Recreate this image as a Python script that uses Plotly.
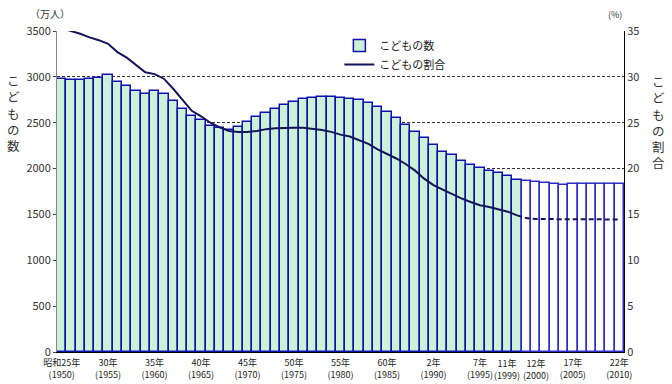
import plotly.graph_objects as go
from plotly.subplots import make_subplots

years_hist = list(range(1950, 2000))
children_hist = [2975, 2970, 2970, 2975, 2988, 3015, 2940, 2898, 2850, 2817,
                 2850, 2814, 2735, 2648, 2572, 2525, 2464, 2440, 2425, 2455,
                 2510, 2558, 2601, 2648, 2692, 2725, 2754, 2769, 2780, 2780,
                 2769, 2762, 2747, 2711, 2667, 2615, 2548, 2475, 2402, 2329,
                 2257, 2184, 2148, 2086, 2039, 2002, 1973, 1955, 1922, 1875]
ratio_hist = [35.3, 35.0, 34.7, 34.3, 34.0, 33.6, 32.7, 32.1, 31.3, 30.5,
              30.3, 29.8, 28.7, 27.5, 26.3, 25.7, 25.0, 24.5, 24.1, 24.0,
              24.0, 24.1, 24.3, 24.4, 24.45, 24.45, 24.45, 24.35, 24.2, 24.0,
              23.7, 23.5, 23.1, 22.7, 22.1, 21.6, 21.1, 20.5, 19.8, 18.9,
              18.2, 17.7, 17.2, 16.75, 16.35, 16.0, 15.8, 15.55, 15.3, 14.9]

years_proj = list(range(2000, 2011))
children_proj = [1860, 1850, 1839, 1830, 1822, 1828, 1828, 1828, 1828, 1828, 1828]
years_proj_line = [1999] + years_proj
ratio_proj = [14.9, 14.6, 14.5, 14.5, 14.45, 14.45, 14.45, 14.45, 14.45, 14.45, 14.45, 14.45]

tick_years = [1950, 1955, 1960, 1965, 1970, 1975, 1980, 1985, 1990, 1995, 2005, 2010]
tick_era = ["昭和25年", "30年", "35年", "40年", "45年", "50年", "55年", "60年",
            "2年", "7年", "17年", "22年"]
extra_years = [1999, 2000]
extra_era = ["11年", "12年"]

legend_bar = "こどもの数"
legend_line = "こどもの割合"

FONT = "Noto Sans CJK JP"
BAR_LINE = "#1010b0"
NAVY = "#14145a"

fig = make_subplots(specs=[[{"secondary_y": True}]])

fig.add_trace(go.Bar(x=years_hist, y=children_hist, name=legend_bar,
                     marker=dict(color="#cbf2d6", line=dict(color=BAR_LINE, width=1.5)),
                     width=1.0), secondary_y=False)
fig.add_trace(go.Bar(x=years_proj, y=children_proj, name=legend_bar, showlegend=False,
                     marker=dict(color="#ffffff", line=dict(color="#2c2cc8", width=1.5)),
                     width=1.0), secondary_y=False)
fig.add_trace(go.Scatter(x=years_hist, y=ratio_hist, name=legend_line, mode="lines",
                         line=dict(color=NAVY, width=2)), secondary_y=True)
fig.add_trace(go.Scatter(x=years_proj_line, y=ratio_proj, name=legend_line, mode="lines",
                         showlegend=False,
                         line=dict(color=NAVY, width=2, dash="5px,3px")), secondary_y=True)

ticktext = [f"{e}<br>({y})" for e, y in zip(tick_era, tick_years)]

fig.update_xaxes(range=[1949.5, 2010.5], domain=[0, 1], automargin=False,
                 tickmode="array", tickvals=tick_years,
                 ticktext=ticktext, tickangle=0, showgrid=False, showline=True,
                 linecolor="#000000", linewidth=1, ticks="", ticklabelstandoff=2,
                 tickfont=dict(family=FONT, size=9, color="#222222"))

fig.update_yaxes(range=[0, 3500], dtick=500, showgrid=True, gridcolor="#333333",
                 griddash="3px,2px", gridwidth=1, showline=True, linecolor="#888888",
                 ticks="outside", ticklen=3, tickcolor="#444444", zeroline=False,
                 automargin=False,
                 tickfont=dict(family=FONT, size=11, color="#333333"),
                 secondary_y=False)
fig.update_yaxes(range=[0, 35], dtick=5, showgrid=False, showline=True,
                 linecolor="#000000", ticks="", zeroline=False, automargin=False,
                 tickfont=dict(family=FONT, size=11, color="#333333"),
                 secondary_y=True)

annotations = []
for y, e in zip(extra_years, extra_era):
    annotations.append(dict(x=y, y=0, xref="x", yref="paper", yanchor="top",
                            xanchor="right" if y == 1999 else "left",
                            xshift=5 if y == 1999 else -5, yshift=-3,
                            text=f"{e}<br>({y})", showarrow=False, align="center",
                            font=dict(family=FONT, size=9, color="#222222")))
annotations += [
    dict(x=-0.012, y=1.0, xref="paper", yref="paper", xanchor="center", yanchor="bottom",
         yshift=8, text="（万人）", showarrow=False,
         font=dict(family=FONT, size=10, color="#333333")),
    dict(x=1.0, y=1.0, xref="paper", yref="paper", xanchor="right", yanchor="bottom",
         yshift=8, text="(%)", showarrow=False,
         font=dict(family=FONT, size=9, color="#333333")),
    dict(x=-0.077, y=0.745, xref="paper", yref="paper", xanchor="center", yanchor="middle",
         text="<br>".join(list("こどもの数")), showarrow=False,
         font=dict(family=FONT, size=12.5, color="#333333")),
    dict(x=1.06, y=0.715, xref="paper", yref="paper", xanchor="center", yanchor="middle",
         text="<br>".join(list("こどもの割合")), showarrow=False,
         font=dict(family=FONT, size=12.5, color="#333333")),
]

fig.update_layout(
    width=672, height=384,
    margin=dict(l=57, r=48, t=31, b=32, autoexpand=False),
    paper_bgcolor="#ffffff", plot_bgcolor="#ffffff",
    bargap=0, barmode="overlay",
    font=dict(family=FONT, color="#333333"),
    legend=dict(x=0.498, y=1.0, xanchor="left", yanchor="top",
                bgcolor="rgba(255,255,255,0)", borderwidth=0,
                font=dict(family=FONT, size=11, color="#222222"),
                tracegroupgap=0, itemwidth=30),
    annotations=annotations,
)

fig.write_html("out.html", config={"displayModeBar": False},
               post_script="document.body.style.margin='0px';")
